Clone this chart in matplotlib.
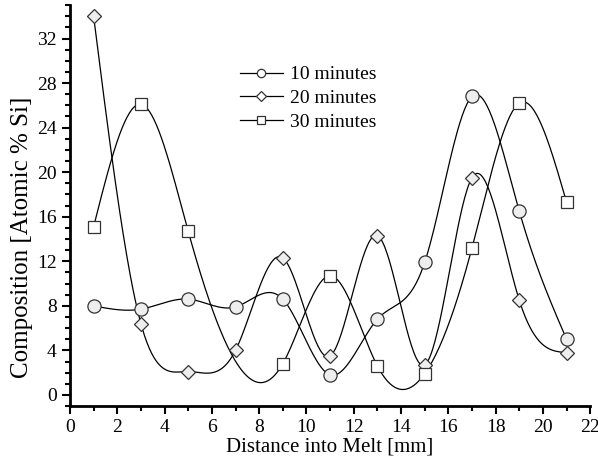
import numpy as np
import matplotlib
matplotlib.use("Agg")
import matplotlib.pyplot as plt
from matplotlib.ticker import MultipleLocator

x_10 = [1, 3, 5, 7, 9, 11, 13, 15, 17, 19, 21]
y_10 = [8.0, 7.7, 8.6, 7.9, 8.6, 1.8, 6.8, 11.9, 26.8, 16.5, 5.0]

x_20 = [1, 3, 5, 7, 9, 11, 13, 15, 17, 19, 21]
y_20 = [34.0, 6.4, 2.1, 4.0, 12.3, 3.5, 14.3, 2.7, 19.5, 8.5, 3.8]

x_30 = [1, 3, 5, 9, 11, 13, 15, 17, 19, 21]
y_30 = [15.1, 26.1, 14.7, 2.8, 10.7, 2.6, 1.9, 13.2, 26.2, 17.3]

labels = ["10 minutes", "20 minutes", "30 minutes"]


def natural_spline(x, y, n=400):
    # natural cubic spline, like Origin's spline connect
    x = np.asarray(x, float)
    y = np.asarray(y, float)
    m = len(x)
    h = np.diff(x)
    A = np.zeros((m, m))
    b = np.zeros(m)
    A[0, 0] = 1
    A[-1, -1] = 1
    for i in range(1, m - 1):
        A[i, i - 1] = h[i - 1]
        A[i, i] = 2 * (h[i - 1] + h[i])
        A[i, i + 1] = h[i]
        b[i] = 3 * ((y[i + 1] - y[i]) / h[i] - (y[i] - y[i - 1]) / h[i - 1])
    c = np.linalg.solve(A, b)
    xs = np.linspace(x[0], x[-1], n)
    idx = np.clip(np.searchsorted(x, xs) - 1, 0, m - 2)
    dx = xs - x[idx]
    hi = h[idx]
    bi = (y[idx + 1] - y[idx]) / hi - hi * (2 * c[idx] + c[idx + 1]) / 3
    di = (c[idx + 1] - c[idx]) / (3 * hi)
    ys = y[idx] + bi * dx + c[idx] * dx ** 2 + di * dx ** 3
    return xs, ys


plt.rcParams['font.family'] = ['Liberation Serif', 'DejaVu Serif']

fig = plt.figure(figsize=(5.98, 4.63), dpi=100)
ax = fig.add_axes([0.117, 0.123, 0.870, 0.866])

series = [
    (x_10, y_10, 'o', '#eeeeee', 9.5),
    (x_20, y_20, 'D', '#eeeeee', 7.5),
    (x_30, y_30, 's', 'white', 8.5),
]
for (xv, yv, mk, fc, ms), lab in zip(series, labels):
    xs, ys = natural_spline(xv, yv)
    ax.plot(xs, ys, color='black', lw=0.9, zorder=2)
    ax.plot(xv, yv, linestyle='none', marker=mk, ms=ms,
            mfc=fc, mec='#333333', mew=0.9, zorder=3)
    ax.plot([], [], color='black', lw=0.9, marker=mk, ms=6 if mk != 'D' else 5.5,
            mfc='white', mec='#333333', mew=0.9, label=lab)

ax.set_xlim(0, 22)
ax.set_ylim(-1, 35)
ax.xaxis.set_major_locator(MultipleLocator(2))
ax.xaxis.set_minor_locator(MultipleLocator(1))
ax.yaxis.set_major_locator(MultipleLocator(4))
ax.yaxis.set_minor_locator(MultipleLocator(1))

for s in ['top', 'right']:
    ax.spines[s].set_visible(False)
for s in ['left', 'bottom']:
    ax.spines[s].set_linewidth(2)

ax.tick_params(which='major', direction='out', length=6, width=1.5, labelsize=14)
ax.tick_params(which='minor', direction='out', length=3.5, width=1.5)

ax.set_xlabel("Distance into Melt [mm]", fontsize=15, labelpad=1)
ax.set_ylabel("Composition [Atomic % Si]", fontsize=18)
ax.yaxis.set_label_coords(-0.072, 0.42)

ax.legend(loc='upper left', bbox_to_anchor=(0.312, 0.868), frameon=False,
          fontsize=14, handlelength=2.2, handletextpad=0.36, labelspacing=0.32,
          borderaxespad=0)

fig.savefig("out.png", dpi=100)
